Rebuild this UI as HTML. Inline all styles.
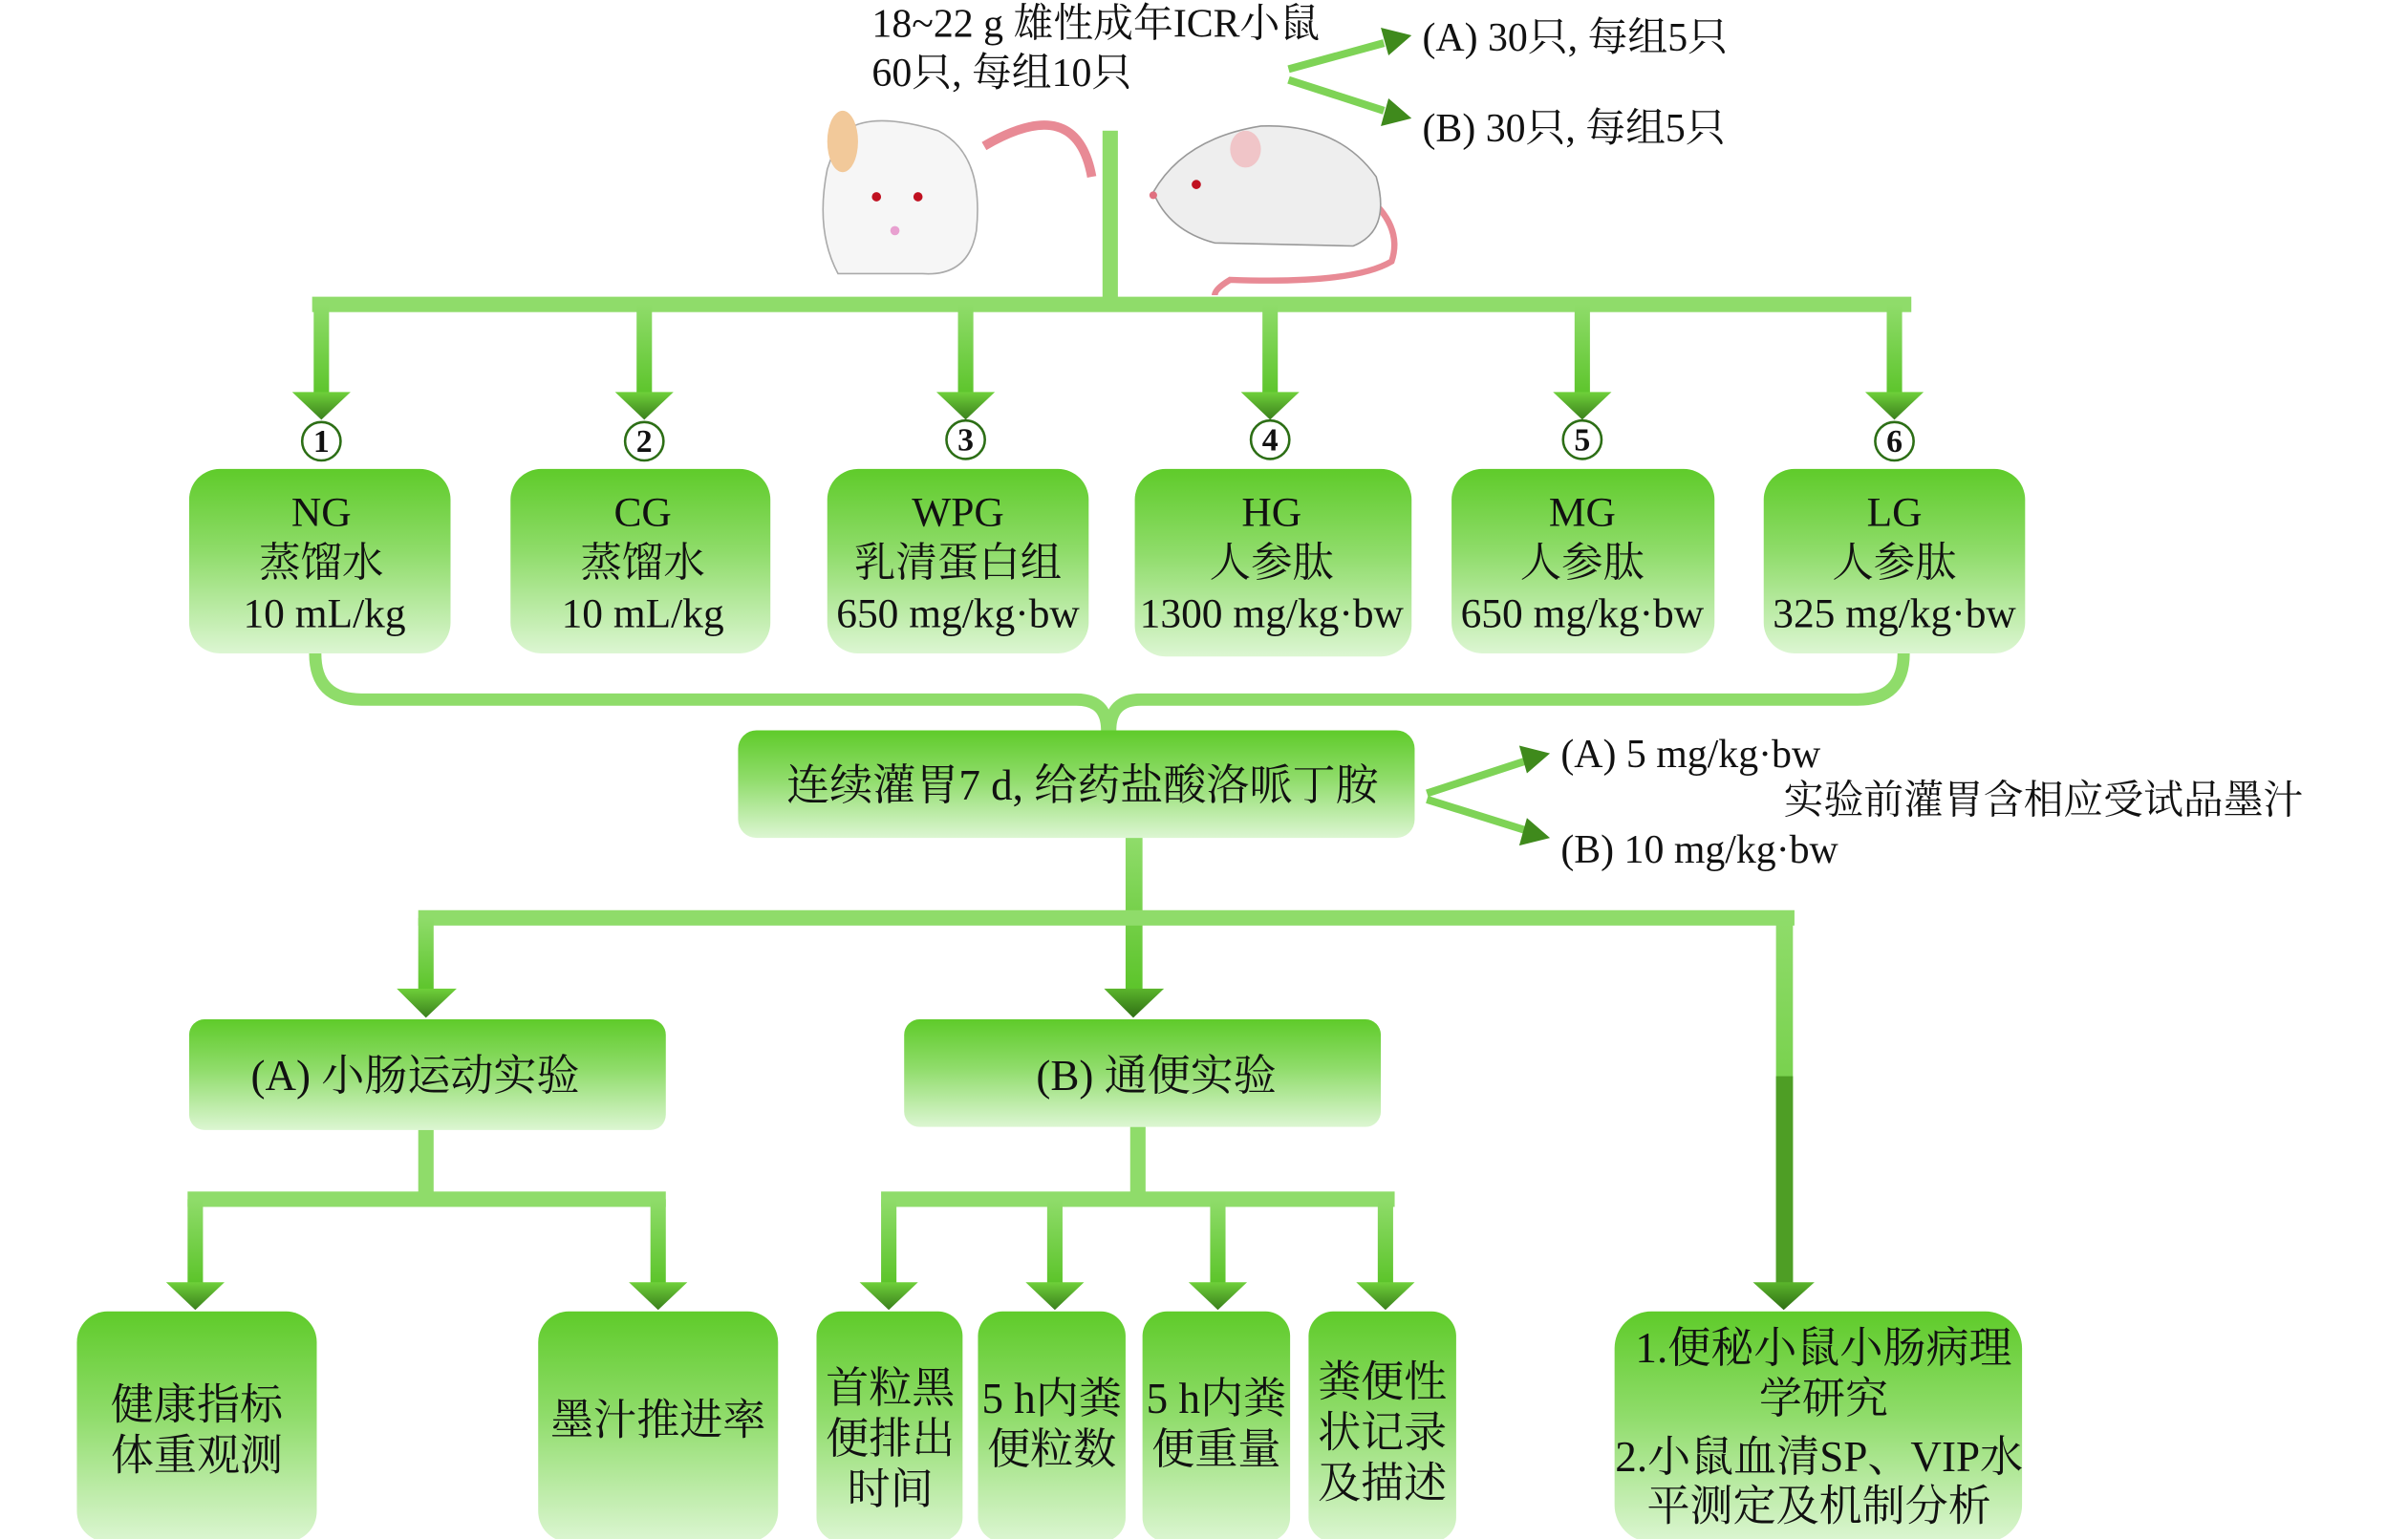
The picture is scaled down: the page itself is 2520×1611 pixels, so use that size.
<!DOCTYPE html>
<html><head><meta charset="utf-8"><style>
html,body{margin:0;padding:0;background:#fff;}
svg{display:block;}
text{font-family:"Liberation Serif","Noto Serif CJK SC",serif;fill:#111;}
</style></head><body>
<svg width="2520" height="1611" viewBox="0 0 1566 1001" preserveAspectRatio="none" xmlns="http://www.w3.org/2000/svg">
<defs>
<linearGradient id="box" x1="0" y1="0" x2="0" y2="1">
<stop offset="0" stop-color="#5fcb2a"/><stop offset="0.45" stop-color="#8fdc6a"/><stop offset="1" stop-color="#dcf6d2"/>
</linearGradient>
<linearGradient id="ah" x1="0" y1="0" x2="0" y2="1">
<stop offset="0" stop-color="#6fd03a"/><stop offset="1" stop-color="#3a7f1c"/>
</linearGradient>
<linearGradient id="ahd" x1="0" y1="0" x2="0" y2="1">
<stop offset="0" stop-color="#5bb52c"/><stop offset="1" stop-color="#2f6e14"/>
</linearGradient>
<linearGradient id="vl" x1="0" y1="0" x2="0" y2="1">
<stop offset="0" stop-color="#8fdc6a"/><stop offset="1" stop-color="#5cc42a"/>
</linearGradient>
</defs>

<text x="567" y="24" font-size="26">18~22 g 雄性成年ICR小鼠</text>
<text x="567" y="56" font-size="26">60只, 每组10只</text>
<g stroke="#7ed356" stroke-width="5" fill="none">
<line x1="838" y1="45" x2="900" y2="28"/><line x1="838" y1="52" x2="900" y2="72"/>
</g>
<polygon points="918,23 898,18 903,36" fill="#3f8a1c"/>
<polygon points="918,77 903,64 898,82" fill="#3f8a1c"/>
<text x="925" y="33" font-size="26">(A) 30只, 每组5只</text>
<text x="925" y="92" font-size="26">(B) 30只, 每组5只</text>

<g>
<path d="M640,95 Q700,60 710,115" stroke="#e88a95" stroke-width="6" fill="none"/>
<path d="M545,90 Q560,70 610,85 Q640,100 635,150 Q630,180 600,178 L545,178 Q530,150 538,110 Z" fill="#f6f6f6" stroke="#aaa" stroke-width="1"/>
<ellipse cx="548" cy="92" rx="10" ry="20" fill="#f2c99a"/>
<circle cx="570" cy="128" r="3" fill="#c01020"/><circle cx="597" cy="128" r="3" fill="#c01020"/>
<circle cx="582" cy="150" r="3" fill="#e8a0d0"/>
<path d="M870,115 Q915,140 905,170 Q880,185 800,182 Q790,188 790,192" stroke="#e88a95" stroke-width="4" fill="none"/>
<path d="M750,125 Q770,90 820,82 Q870,80 895,115 Q905,150 880,160 L790,158 Q760,150 750,125 Z" fill="#eeeeee" stroke="#999" stroke-width="1"/>
<ellipse cx="810" cy="97" rx="10" ry="12" fill="#f0c5c8"/>
<circle cx="778" cy="120" r="3" fill="#c01020"/>
<circle cx="750" cy="127" r="2.5" fill="#e07080"/>
</g>

<rect x="717" y="85" width="10" height="112" fill="#8fdc6a"/>
<rect x="203" y="193" width="1040" height="10" fill="#8fdc6a"/>
<g fill="url(#vl)">
<rect x="204" y="198" width="10" height="60"/><rect x="414" y="198" width="10" height="60"/>
<rect x="623" y="198" width="10" height="60"/><rect x="821" y="198" width="10" height="60"/>
<rect x="1024" y="198" width="10" height="60"/><rect x="1227" y="198" width="10" height="60"/>
</g>
<g fill="url(#ah)">
<polygon points="190,255 228,255 209,273"/><polygon points="400,255 438,255 419,273"/>
<polygon points="609,255 647,255 628,273"/><polygon points="807,255 845,255 826,273"/>
<polygon points="1010,255 1048,255 1029,273"/><polygon points="1213,255 1251,255 1232,273"/>
</g>
<g stroke="#2c6e15" stroke-width="1.6" fill="none">
<circle cx="209" cy="287" r="12.5"/><circle cx="419" cy="287" r="12.5"/><circle cx="628" cy="286" r="12.5"/>
<circle cx="826" cy="286" r="12.5"/><circle cx="1029" cy="286" r="12.5"/><circle cx="1232" cy="287" r="12.5"/>
</g>
<g font-size="21" text-anchor="middle" font-weight="bold" style="fill:#1d4d0c">
<text x="209" y="294">1</text><text x="419" y="294">2</text><text x="628" y="293">3</text>
<text x="826" y="293">4</text><text x="1029" y="293">5</text><text x="1232" y="294">6</text>
</g>

<g fill="url(#box)">
<rect x="123" y="305" width="170" height="120" rx="20"/>
<rect x="332" y="305" width="169" height="120" rx="20"/>
<rect x="538" y="305" width="170" height="120" rx="20"/>
<rect x="738" y="305" width="180" height="122" rx="20"/>
<rect x="944" y="305" width="171" height="120" rx="20"/>
<rect x="1147" y="305" width="170" height="120" rx="20"/>
</g>
<g font-size="27" text-anchor="middle">
<text x="209" y="342">NG</text><text x="209" y="375">蒸馏水</text><text x="211" y="408">10 mL/kg</text>
<text x="418" y="342">CG</text><text x="418" y="375">蒸馏水</text><text x="418" y="408">10 mL/kg</text>
<text x="623" y="342">WPG</text><text x="623" y="375">乳清蛋白组</text><text x="623" y="408">650 mg/kg·bw</text>
<text x="827" y="342">HG</text><text x="827" y="375">人参肽</text><text x="827" y="408">1300 mg/kg·bw</text>
<text x="1029" y="342">MG</text><text x="1029" y="375">人参肽</text><text x="1029" y="408">650 mg/kg·bw</text>
<text x="1232" y="342">LG</text><text x="1232" y="375">人参肽</text><text x="1232" y="408">325 mg/kg·bw</text>
</g>

<path d="M205,425 Q205,455 235,455 L700,455 Q720,455 720,475 M1238,425 Q1238,455 1208,455 L742,455 Q722,455 722,475" stroke="#8fdc6a" stroke-width="8" fill="none"/>

<rect x="480" y="475" width="440" height="70" rx="12" fill="url(#box)"/>
<text x="704" y="520" font-size="28" text-anchor="middle">连续灌胃7 d, 给药盐酸洛哌丁胺</text>

<g stroke="#7ed356" stroke-width="5" fill="none">
<line x1="928" y1="516" x2="992" y2="495"/><line x1="928" y1="520" x2="992" y2="540"/>
</g>
<polygon points="1008,490 988,485 993,503" fill="#3f8a1c"/>
<polygon points="1008,545 993,532 988,550" fill="#3f8a1c"/>
<text x="1015" y="499" font-size="26">(A) 5 mg/kg·bw</text>
<text x="1160" y="529" font-size="26">实验前灌胃含相应受试品墨汁</text>
<text x="1015" y="561" font-size="26">(B) 10 mg/kg·bw</text>

<rect x="732" y="545" width="11" height="100" fill="url(#vl)"/>
<rect x="272" y="592" width="895" height="10" fill="#8fdc6a"/>
<rect x="272" y="597" width="10" height="48" fill="url(#vl)"/>
<rect x="1155" y="597" width="11" height="240" fill="url(#vl)"/>
<rect x="1155" y="700" width="11" height="137" fill="#4e9e25"/>
<polygon points="258,643 297,643 277,662" fill="url(#ah)"/>
<polygon points="718,643 757,643 737,662" fill="url(#ahd)"/>
<polygon points="1140,834 1180,834 1160,852" fill="url(#ahd)"/>

<rect x="123" y="663" width="310" height="72" rx="10" fill="url(#box)"/>
<rect x="588" y="663" width="310" height="70" rx="10" fill="url(#box)"/>
<text x="270" y="709" font-size="28" text-anchor="middle">(A) 小肠运动实验</text>
<text x="752" y="709" font-size="28" text-anchor="middle">(B) 通便实验</text>

<rect x="272" y="735" width="10" height="45" fill="#8fdc6a"/>
<rect x="122" y="775" width="311" height="10" fill="#8fdc6a"/>
<rect x="122" y="780" width="10" height="55" fill="url(#vl)"/>
<rect x="423" y="780" width="10" height="55" fill="url(#vl)"/>
<polygon points="108,834 146,834 127,852" fill="url(#ah)"/>
<polygon points="409,834 447,834 428,852" fill="url(#ah)"/>

<rect x="735" y="733" width="10" height="47" fill="#8fdc6a"/>
<rect x="573" y="775" width="334" height="10" fill="#8fdc6a"/>
<g fill="url(#vl)">
<rect x="573" y="780" width="10" height="55"/><rect x="681" y="780" width="10" height="55"/>
<rect x="787" y="780" width="10" height="55"/><rect x="896" y="780" width="10" height="55"/>
</g>
<g fill="url(#ah)">
<polygon points="559,834 597,834 578,852"/><polygon points="667,834 705,834 686,852"/>
<polygon points="773,834 811,834 792,852"/><polygon points="882,834 920,834 901,852"/>
</g>

<g fill="url(#box)">
<rect x="50" y="853" width="156" height="150" rx="20"/>
<rect x="350" y="853" width="156" height="150" rx="20"/>
<rect x="531" y="853" width="95" height="150" rx="16"/>
<rect x="636" y="853" width="96" height="150" rx="16"/>
<rect x="743" y="853" width="96" height="150" rx="16"/>
<rect x="851" y="853" width="96" height="150" rx="16"/>
<rect x="1050" y="853" width="265" height="150" rx="24"/>
</g>
<g font-size="28" text-anchor="middle">
<text x="128" y="923">健康指标</text><text x="128" y="956">体重观测</text>
<text x="428" y="933">墨汁推进率</text>
<text x="579" y="912">首粒黑</text><text x="579" y="945">便排出</text><text x="579" y="978">时间</text>
<text x="684" y="919">5 h内粪</text><text x="684" y="952">便粒数</text>
<text x="791" y="919">5 h内粪</text><text x="791" y="952">便重量</text>
<text x="899" y="908">粪便性</text><text x="899" y="941">状记录</text><text x="899" y="974">及描述</text>
<text x="1186" y="886">1.便秘小鼠小肠病理</text><text x="1186" y="919">学研究</text>
<text x="1183" y="957">2.小鼠血清SP、VIP水</text><text x="1183" y="989">平测定及机制分析</text>
</g>
</svg>
</body></html>
